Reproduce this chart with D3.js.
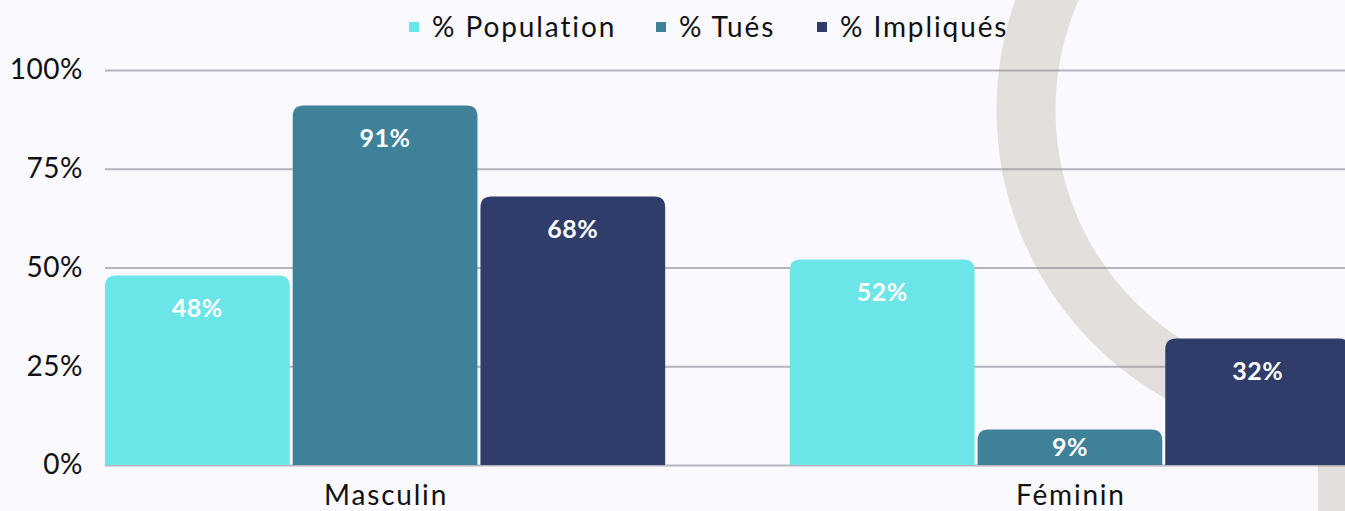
<!DOCTYPE html>
<html>
<head>
<meta charset="utf-8">
<script src="https://cdn.jsdelivr.net/npm/d3@7"></script>
<style>
  html, body { margin: 0; padding: 0; background: #f9f9fe; }
  svg { display: block; font-family: Lato, sans-serif; }
</style>
</head>
<body>
<svg id="chart"></svg>
<script>
const categories = ["Masculin", "Féminin"]
const seriesNames = ["% Population", "% Tués", "% Impliqués"]
const population = [48, 52]
const tues = [91, 9]
const impliques = [68, 32]
const yTicks = [0, 25, 50, 75, 100]
const colors = ["#6ce5e8", "#3f8199", "#303c69"]

function chart(width = 1345, height = 511) {
    const margin = ({top: 70, right: -5, bottom: 46, left: 105})
    const series = [population, tues, impliques]
    const data = categories.map((c, i) => ({
        cat: c,
        values: seriesNames.map((s, j) => ({key: s, value: series[j][i], color: colors[j]}))
    }))

    const x0 = d3.scaleBand()
        .domain(categories)
        .range([margin.left, width - margin.right])
        .paddingInner(0.182)
        .paddingOuter(0)

    const x1 = d3.scaleBand()
        .domain(seriesNames)
        .range([0, x0.bandwidth()])
        .paddingInner(0.016)

    const y = d3.scaleLinear()
        .domain([0, 100])
        .range([height - margin.bottom, margin.top])

    const svg = d3.select("#chart")
        .attr("width", width)
        .attr("height", height)
        .attr("viewBox", [0, 0, width, height])

    svg.append("rect")
        .attr("width", width)
        .attr("height", height)
        .attr("fill", "#f9f9fe")

    // decorative ring behind the chart
    svg.append("circle")
        .attr("cx", 1327)
        .attr("cy", 110)
        .attr("r", 301)
        .attr("fill", "none")
        .attr("stroke", "#e3dfdc")
        .attr("stroke-width", 59)
    svg.append("rect")
        .attr("x", 1318)
        .attr("y", 440)
        .attr("width", 40)
        .attr("height", 80)
        .attr("fill", "#e3dfdc")

    // grid + y axis
    const yAxis = g => g
        .attr("transform", `translate(${margin.left},0)`)
        .call(d3.axisLeft(y).tickValues(yTicks).tickFormat(d => d + "%")
            .tickSize(-(width - margin.left)).tickPadding(22))
        .call(g => g.select(".domain").remove())
        .call(g => g.selectAll(".tick line").attr("stroke", "#7f7d86").attr("stroke-opacity", 0.55).attr("stroke-width", 2))
        .call(g => g.selectAll(".tick text").attr("fill", "#111").attr("font-size", 28)
            .attr("letter-spacing", 0.5).attr("font-family", "Lato, sans-serif"))

    svg.append("g").call(yAxis)

    const roundTop = (x, yTop, w, h, r) => {
        r = Math.min(r, h, w / 2)
        return `M${x},${yTop + h}V${yTop + r}Q${x},${yTop} ${x + r},${yTop}H${x + w - r}Q${x + w},${yTop} ${x + w},${yTop + r}V${yTop + h}Z`
    }

    const group = svg.append("g")
        .selectAll("g")
        .data(data)
        .join("g")
        .attr("transform", d => `translate(${x0(d.cat)},0)`)

    group.selectAll("path")
        .data(d => d.values)
        .join("path")
        .attr("fill", d => d.color)
        .attr("d", d => roundTop(x1(d.key), y(d.value), x1.bandwidth(), y(0) - y(d.value), 11))

    group.selectAll("text")
        .data(d => d.values)
        .join("text")
        .attr("x", d => x1(d.key) + x1.bandwidth() / 2)
        .attr("y", d => y(d.value) + Math.min(33, (y(0) - y(d.value)) / 2))
        .attr("dy", "0.35em")
        .attr("text-anchor", "middle")
        .attr("fill", "white")
        .attr("font-weight", "bold")
        .attr("font-size", 25)
        .attr("letter-spacing", 0.5)
        .text(d => d.value + "%")

    // category labels
    svg.append("g")
        .selectAll("text")
        .data(categories)
        .join("text")
        .attr("x", d => x0(d) + x0.bandwidth() / 2 + 1)
        .attr("y", height - 6)
        .attr("text-anchor", "middle")
        .attr("fill", "#111")
        .attr("font-size", 28)
        .attr("letter-spacing", 1.8)
        .text(d => d)

    // legend
    const legendX = [409, 656, 817]
    const legend = svg.append("g")
        .selectAll("g")
        .data(seriesNames)
        .join("g")
        .attr("transform", (d, i) => `translate(${legendX[i]},27)`)
    legend.append("rect")
        .attr("x", 0)
        .attr("y", -5)
        .attr("width", 10)
        .attr("height", 10)
        .attr("fill", (d, i) => colors[i])
    legend.append("text")
        .attr("x", 23)
        .attr("dy", "0.35em")
        .attr("fill", "#111")
        .attr("font-size", 28)
        .attr("letter-spacing", 1.9)
        .text(d => d)

    return svg.node()
}

chart()
</script>
</body>
</html>
